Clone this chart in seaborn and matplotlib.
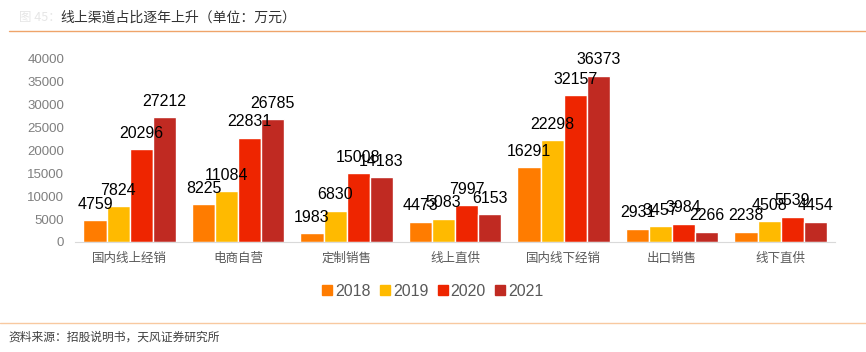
import pandas as pd
import seaborn as sns
import matplotlib.pyplot as plt
from matplotlib.lines import Line2D

categories = ["国内线上经销", "电商自营", "定制销售", "线上直供", "国内线下经销", "出口销售", "线下直供"]
years = ["2018", "2019", "2020", "2021"]
v2018 = [4759, 8225, 1983, 4473, 16291, 2931, 2238]
v2019 = [7824, 11084, 6830, 5083, 22298, 3457, 4508]
v2020 = [20296, 22831, 15008, 7997, 32157, 3984, 5539]
v2021 = [27212, 26785, 14183, 6153, 36373, 2266, 4454]
colors = ["#FF7C00", "#FFBA00", "#EE2500", "#C02A22"]

rows = []
for y, vals in zip(years, [v2018, v2019, v2020, v2021]):
    for c, v in zip(categories, vals):
        rows.append({"cat": c, "year": y, "value": v})
df = pd.DataFrame(rows)

sns.set_style("white")
plt.rcParams["font.family"] = ["Noto Sans CJK SC", "DejaVu Sans"]

fig = plt.figure(figsize=(8.66, 3.52), dpi=100)
ax = fig.add_axes([0.087, 0.3125, 0.877, 0.52])
sns.barplot(data=df, x="cat", y="value", hue="year", palette=colors,
            width=0.85, saturation=1, ax=ax, legend=False)

for cont in ax.containers:
    for bar in cont:
        h = bar.get_height()
        ax.annotate(f"{int(h)}", (bar.get_x() + bar.get_width() / 2, h),
                    xytext=(0, 6), textcoords="offset points",
                    ha="center", va="bottom", fontsize=11.5, color="black",
                    family="Liberation Sans")

ax.set_ylim(0, 40000)
ax.set_yticks(range(0, 40001, 5000))
ax.set_xlim(-0.5, 6.5)
ax.set_xlabel("")
ax.set_ylabel("")
for s in ["top", "right", "left"]:
    ax.spines[s].set_visible(False)
ax.spines["bottom"].set_color("#d9d9d9")
ax.tick_params(axis="y", length=0, labelsize=9.5, labelcolor="#7f7f7f", pad=8)
ax.tick_params(axis="x", length=0, labelsize=9, labelcolor="#595959", pad=7)
for t in ax.get_yticklabels():
    t.set_family("Liberation Sans")

handles = [Line2D([], [], marker="s", linestyle="", markersize=7, color=c) for c in colors]
leg = fig.legend(handles, years, loc="center", bbox_to_anchor=(0.497, 0.173), ncol=4,
                 frameon=False, handletextpad=-0.1, handlelength=1.2,
                 columnspacing=0.3, prop={"family": "Liberation Sans", "size": 11.5})
for t in leg.get_texts():
    t.set_color("#595959")

fig.text(0.022, 0.95, "图 45：", fontsize=9, color="#e6e6e6", va="center")
fig.text(0.07, 0.95, "线上渠道占比逐年上升（单位：万元）", fontsize=10, color="#333333",
         va="center")
fig.add_artist(Line2D([0.01, 1.0], [0.912, 0.912], color="#EFA46A", lw=1))
fig.add_artist(Line2D([0.0, 1.0], [0.082, 0.082], color="#F8C9A0", lw=1))
fig.text(0.01, 0.042, "资料来源：招股说明书，天风证券研究所", fontsize=8.5,
         color="#404040", va="center")

fig.savefig("out.png", dpi=100)
